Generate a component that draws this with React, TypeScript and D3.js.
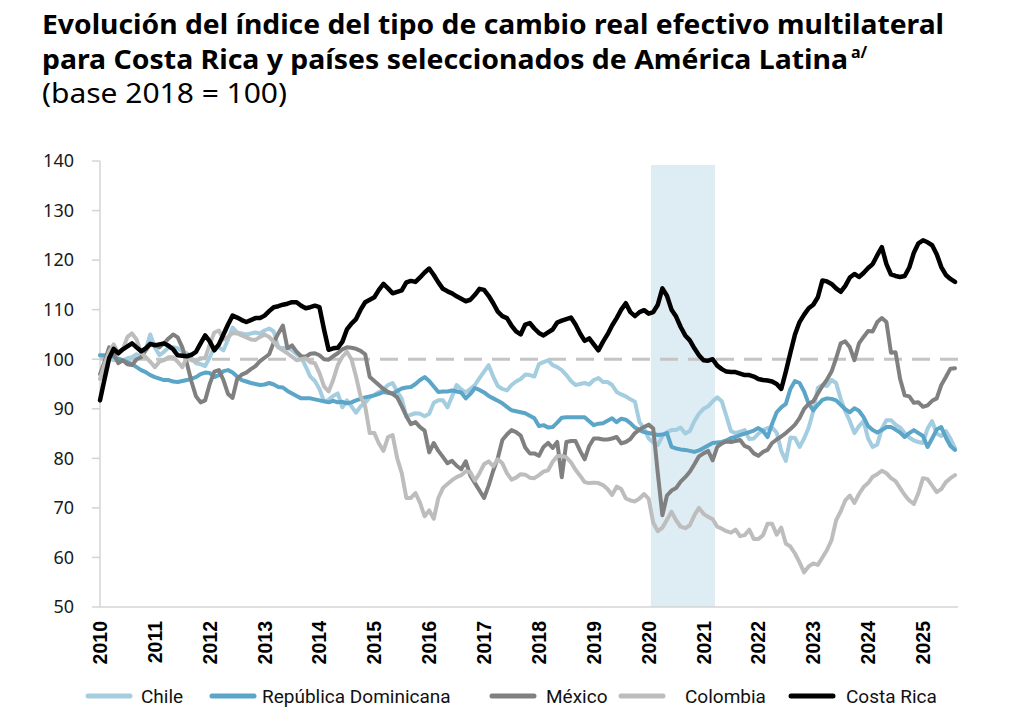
import React from "react";
import * as d3 from "d3";

const startYear = 2010;
const yearLabels = ["2010","2011","2012","2013","2014","2015","2016","2017","2018","2019","2020","2021","2022","2023","2024","2025"];
const yTicks = [50, 60, 70, 80, 90, 100, 110, 120, 130, 140];
const baseLine = 100;
const shadeStart = "2020-02";
const shadeEnd = "2021-03";
const shadeTop = 139.2;

// Monthly values, Jan 2010 – Aug 2025
const chile = [
  100.8, 100.5, 100.2, 99.8, 100, 99.8, 100.2, 100.4, 101, 100.6, 102, 105,
  102.4, 100.8, 101.5, 102.4, 102.4, 102.2, 101.6, 101.2, 100.2, 99.2, 99, 98.6,
  100.4, 102.4, 102.4, 101.8, 104, 106.4, 105.4, 105.2, 105, 105.2, 105.4, 105.2,
  105.8, 106.2, 105.6, 102.4, 102.2, 102.4, 101.8, 101, 100.4, 98.5, 96.5, 95.6,
  94, 91.5, 91.8, 92.6, 93.1, 90.3, 91.7, 90.5, 89.2, 90.5, 91.2, 92.3,
  92.8, 93.4, 93.9, 94.8, 95.2, 93.5, 92, 88.4, 88.8, 89.1, 89, 88.5,
  89, 91.2, 91.7, 91.7, 90.3, 92.5, 94.8, 93.9, 93.3, 94, 94.8, 96.2,
  97.5, 98.8, 96.5, 94.6, 94, 93.7, 94.8, 95.5, 96, 96.9, 96.8, 96.5,
  99, 99.4, 99.8, 98.8, 98.4, 97.8, 96.8, 95.6, 94.8, 95, 95.2, 94.9,
  95.8, 96.2, 95.4, 95.4, 94.8, 93.4, 92.9, 92.5, 91.9, 91.4, 87.3, 86,
  84, 83.2, 82.7, 84.5, 85.3, 85.7, 85.7, 86.2, 85, 85.5, 87.5, 89,
  90, 90.5, 91.5, 92.3, 91.5, 88.5, 85.5, 85.1, 85.4, 85.7, 83.9, 84,
  85, 85.7, 86.1, 86.2, 85.2, 81.5, 79.5, 84.2, 84.1, 82.3, 84, 86.2,
  89.5, 94.2, 94.8, 94.6, 95.8, 95.2, 92, 89.5, 87.5, 85.1, 86.5, 87.5,
  84, 82.3, 82.8, 86, 87.7, 87.7, 86.8, 86.2, 85.1, 84.2, 83.6, 83.3,
  83.1, 86, 87.5, 85, 84.5, 85.5, 84, 82,
];

const dominicana = [
  100.8, 100.8, 100.8, 100.5, 100.1, 99.8, 99.4, 99, 98.4, 97.8, 97.4, 96.8,
  96.4, 96.1, 95.8, 95.8, 95.5, 95.4, 95.6, 95.8, 96.1, 96.4, 97, 97.3,
  97.2, 96.4, 96.8, 97.6, 97.8, 97.3, 96.5, 95.8, 95.5, 95.2, 95, 94.8,
  94.9, 95.2, 94.9, 94.4, 94.3, 93.6, 93.1, 92.6, 92.1, 92.1, 92.1, 91.9,
  91.7, 91.5, 91.3, 91.6, 91.3, 91.4, 91.1, 91.3, 91.7, 92, 92.3, 92.5,
  92.7, 93, 93.4, 93.2, 93.1, 93.6, 94.1, 94.3, 94.4, 95, 95.8, 96.4,
  95.6, 94.5, 93.4, 93.5, 93.5, 93.7, 93.5, 93.3, 92.1, 93, 94.2, 93.8,
  93.3, 92.6, 92.1, 91.6, 91.1, 90.4, 89.7, 89.5, 89.3, 89.1, 88.6, 88.1,
  86.5, 86.7, 86.2, 86.3, 87.2, 88.2, 88.3, 88.3, 88.3, 88.3, 88.3, 87.5,
  86.7, 87, 87.1, 87.6, 88.1, 87.3, 88, 87.8, 87.1, 86.2, 85.7, 85.3,
  85.1, 84.9, 84.7, 84.8, 85.1, 82.3, 82, 81.8, 81.7, 81.5, 81.3, 81.6,
  82.1, 82.6, 83.1, 83.2, 83.3, 83.6, 84.1, 84.3, 84.7, 85, 85.3, 85.6,
  86.1, 85.5, 84.3, 87, 89.3, 90.3, 91, 94, 95.6, 95.2, 93.5, 91,
  89.7, 90.8, 91.8, 92.1, 92, 91.7, 90.8, 89.9, 89.3, 90.1, 89.6, 88.3,
  86.5, 85.7, 85.2, 85.7, 86.3, 86.3, 85.8, 85.2, 84.3, 85.1, 85.7, 85.1,
  84.5, 82.3, 84, 85.8, 86.3, 84.2, 82.5, 81.7,
];

const mexico = [
  97, 99.5, 102.4, 101, 99.2, 99.8, 99, 98.8, 100, 100.4, 101.8, 103,
  103, 102.4, 103.2, 104.2, 105, 104.4, 102.4, 99.2, 95.5, 92.5, 91.3, 91.7,
  95, 97.5, 97.8, 95.8, 93, 92.2, 96, 96.9, 97.3, 98, 98.6, 99.6,
  100.3, 101, 103.4, 105.2, 106.8, 102.2, 102.8, 101.5, 100.6, 100.5, 101.1, 101.2,
  100.8, 100, 99.9, 100.6, 101.2, 102, 102.4, 102.3, 102.1, 101.7, 101, 96.4,
  95.6, 94.8, 94, 93.4, 93, 92.3, 90.5, 88.5, 86.9, 87.3, 86.3, 85.6,
  81.2, 83.1, 81.5, 80.3, 79, 79.5, 78.5, 77.8, 79.4, 76.5, 75, 73.5,
  72, 74.5, 77.5, 80, 83.7, 84.8, 85.7, 85.3, 84.6, 82.2, 81, 81,
  80.5, 82.3, 83.1, 82.1, 83.3, 76.2, 83.3, 83.5, 83.5, 81.5, 79.8, 82.5,
  84, 84, 83.8, 83.8, 84, 84.3, 83, 83.3, 83.9, 85.1, 85.8, 86.3,
  86.8, 86, 77, 68.5, 72.5, 73.5, 74, 75.3, 76.2, 77.3, 78.8, 80.4,
  81, 81.5, 79.6, 82.3, 83, 83.4, 83.3, 83.5, 83.7, 82.5, 82.1, 81,
  80.5, 81.3, 81.7, 83.1, 83.8, 84.4, 85.1, 85.9, 86.8, 88.1, 90, 91,
  91.5, 93.1, 94.6, 95.9, 97.5, 100.2, 103.2, 103.6, 102.4, 99.8, 103.2, 104.5,
  105.7, 105.6, 107.5, 108.3, 107.5, 101.3, 101.4, 96, 92.7, 92.5, 91.2, 91.3,
  90.4, 90.7, 91.6, 92.1, 94.8, 96.4, 98.1, 98.2,
];

const colombia = [
  96, 99, 101.5, 103, 101.3, 102, 104.5, 105.2, 104, 101.3, 100.4, 99.5,
  98.4, 99.5, 99.8, 100.4, 100.4, 99.5, 98.4, 100.4, 99.8, 99.6, 100.2, 100.2,
  103, 105.4, 105.8, 104, 104.5, 105.3, 105.2, 104.8, 104.4, 104, 103.9, 104.5,
  105, 104.5, 103.5, 102.4, 101.8, 101.2, 100.5, 99.8, 100, 100.2, 99.4, 99.2,
  97.2, 94.5, 93.5, 95.8, 98.8, 100.5, 101.5, 100, 96.5, 92.5, 90.5, 85.1,
  85.1, 83, 81.5, 84.3, 84.7, 80, 77, 72, 72, 73, 71, 68.3,
  69.5, 67.8, 72, 74, 74.8, 75.6, 76.2, 76.6, 77.4, 77.2, 75.5, 77,
  78.8, 79.4, 78.4, 79.8, 79, 77, 75.7, 76.1, 76.8, 76.7, 76.1, 76,
  76.6, 77.3, 77.6, 79.3, 80.4, 80.5, 80.2, 79.2, 77.7, 76.5, 75.2, 75,
  75.1, 75, 74.6, 73.8, 72.6, 74.3, 73.8, 71.9, 71.5, 71.3, 71.9, 72.8,
  71.8, 67, 65.3, 66, 67.6, 69.2, 67.5, 66.2, 65.9, 66.5, 68.5, 70,
  68.8, 68.2, 67.7, 66.2, 65.8, 65.3, 65, 65.6, 64.3, 64.5, 65.6, 63.7,
  63.7, 64.5, 66.8, 66.8, 64.6, 66, 62.8, 62.2, 60.8, 59, 57, 58.2,
  58.8, 58.5, 60, 61.5, 63.5, 67.5, 69.3, 71.5, 72.5, 71, 72.8, 74.2,
  75, 76.3, 76.8, 77.5, 77, 76, 75.4, 74, 72.6, 71.5, 70.8, 73,
  76, 75.8, 74.5, 73.2, 73.8, 75.2, 76, 76.6,
];

const costaRica = [
  91.7, 96, 100.2, 102.1, 101.2, 102, 102.6, 103.2, 102.4, 101.6, 102.2, 103.1,
  102.8, 103, 103.2, 102.7, 102, 100.8, 100.7, 100.6, 100.9, 101.5, 103.2, 104.8,
  103.6, 101.8, 103, 105, 107, 108.8, 108.4, 107.9, 107.5, 107.9, 108.3, 108.3,
  108.8, 109.7, 110.5, 110.7, 111, 111.2, 111.5, 111.5, 110.8, 110.3, 110.5, 110.8,
  110.5, 106, 101.9, 102.2, 102.3, 103.5, 106, 107.2, 108.1, 110, 111.5, 112,
  112.5, 114, 115.2, 114.3, 113.3, 113.6, 113.9, 115.5, 115.8, 115.6, 116.5, 117.5,
  118.3, 117, 115.5, 114.2, 113.7, 113.3, 112.7, 112.2, 111.7, 112, 113, 114.2,
  114, 112.8, 111.3, 109.6, 108.7, 108.3, 106.8, 105.6, 105, 107, 107.3, 106.2,
  105.3, 104.8, 105.4, 106, 107.4, 107.8, 108.1, 108.4, 107, 105.2, 103.7, 104.2,
  103, 101.8, 103.5, 105, 106.8, 108.3, 110, 111.3, 109.5, 108.7, 109.5, 109.9,
  109.2, 109.5, 111, 114.3, 112.8, 110, 108.6, 106.5, 104.8, 103.8, 102.2, 100.8,
  99.8, 99.7, 100, 98.7, 98, 97.5, 97.4, 97.4, 97.1, 96.8, 96.8, 96.5,
  96, 95.8, 95.7, 95.5, 95, 94, 97.5, 101.3, 105, 107.5, 109, 110.3,
  111, 112.5, 115.9, 115.7, 115.2, 114.3, 113.6, 114.8, 116.5, 117.2, 116.6, 117.4,
  118.4, 119.2, 121, 122.6, 119.2, 117.1, 116.8, 116.6, 116.8, 118.5, 121.5, 123.4,
  124, 123.6, 123, 121.2, 118.6, 117, 116.2, 115.6,
];

const seriesNames = ["Chile", "República Dominicana", "México", "Colombia", "Costa Rica"];
const seriesData = [chile, dominicana, mexico, colombia, costaRica];
const seriesColors = ["#a4cde0", "#5aa5c8", "#808080", "#bdbdbd", "#000000"];
const seriesWidths = [4, 4, 4, 4, 4.5];

const W = 1028;
const H = 728;
const left = 100;
const right = 958;
const top = 161;
const bottom = 607;

function monthIndex(s: string) {
  const [y, m] = s.split("-").map(Number);
  return (y - startYear) * 12 + (m - 1);
}

export default function App() {
  const x = d3.scaleLinear().domain([0, 180]).range([left, 923]);
  const y = d3.scaleLinear().domain([50, 140]).range([bottom, top]);
  const line = d3
    .line<number>()
    .x((_, i) => x(i))
    .y((d) => y(d))
    .curve(d3.curveLinear);

  const s0 = x(monthIndex(shadeStart) - 0.5);
  const s1 = x(monthIndex(shadeEnd) + 0.5);

  const legendItems = [
    { lx: 88, tx: 141 },
    { lx: 212, tx: 262 },
    { lx: 492, tx: 546 },
    { lx: 621, tx: 685 },
    { lx: 791, tx: 846 },
  ];

  return (
    <svg width={W} height={H} viewBox={`0 0 ${W} ${H}`} style={{ position: "absolute", left: 0, top: 0, background: "#fff" }}>
      <rect x={0} y={0} width={W} height={H} fill="#fff" />
      {/* Title */}
      <g fontFamily="'Noto Sans', 'Open Sans', sans-serif" fill="#000">
        <text x={42} y={34} fontSize={27} fontWeight={700} textLength={902} lengthAdjust="spacingAndGlyphs">
          Evolución del índice del tipo de cambio real efectivo multilateral
        </text>
        <text x={42} y={69} fontSize={27} fontWeight={700} textLength={806} lengthAdjust="spacingAndGlyphs">
          para Costa Rica y países seleccionados de América Latina
        </text>
        <text x={851} y={58} fontSize={16} fontWeight={700}>
          a/
        </text>
        <text x={42} y={103} fontSize={27} fontWeight={400} textLength={245} lengthAdjust="spacingAndGlyphs">
          (base 2018 = 100)
        </text>
      </g>

      {/* Shaded band */}
      <rect x={s0} y={y(shadeTop)} width={s1 - s0} height={bottom - y(shadeTop)} fill="#deecf3" />

      {/* Axes */}
      <line x1={left} x2={left} y1={top} y2={bottom} stroke="#d4d4d4" strokeWidth={1.5} />
      <line x1={left} x2={right} y1={bottom} y2={bottom} stroke="#d4d4d4" strokeWidth={1.5} />
      {yTicks.map((t) => (
        <g key={t}>
          <line x1={left - 8} x2={left} y1={y(t)} y2={y(t)} stroke="#d4d4d4" strokeWidth={1.5} />
          <text
            x={74}
            y={y(t)}
            dy="0.35em"
            textAnchor="end"
            fontSize={18}
            fontFamily="'Noto Sans', sans-serif"
            fill="#1a1a1a"
          >
            {t}
          </text>
        </g>
      ))}
      {yearLabels.map((lab, i) => {
        const xx = x(i * 12);
        return (
          <text
            key={lab}
            transform={`translate(${xx + 7},${621}) rotate(-90)`}
            textAnchor="end"
            fontSize={19.5}
            fontWeight={700}
            fontFamily="'Liberation Sans', Arial, sans-serif"
            fill="#000"
          >
            {lab}
          </text>
        );
      })}

      {/* Reference line at 100 */}
      <line
        x1={left}
        x2={right}
        y1={y(baseLine)}
        y2={y(baseLine)}
        stroke="#c4c4c4"
        strokeWidth={3}
        strokeDasharray="18 10"
      />

      {/* Series */}
      {seriesData.map((vals, i) => (
        <path
          key={seriesNames[i]}
          d={line(vals) || ""}
          fill="none"
          stroke={seriesColors[i]}
          strokeWidth={seriesWidths[i]}
          strokeLinejoin="round"
          strokeLinecap="round"
        />
      ))}

      {/* Legend */}
      {seriesNames.map((n, i) => (
        <g key={n}>
          <line
            x1={legendItems[i].lx}
            x2={legendItems[i].lx + 42}
            y1={696}
            y2={696}
            stroke={seriesColors[i]}
            strokeWidth={5}
            strokeLinecap="round"
          />
          <text
            x={legendItems[i].tx}
            y={696}
            dy="0.35em"
            fontSize={19}
            fontFamily="Roboto, 'Noto Sans', sans-serif"
            fill="#111"
          >
            {n}
          </text>
        </g>
      ))}
    </svg>
  );
}
